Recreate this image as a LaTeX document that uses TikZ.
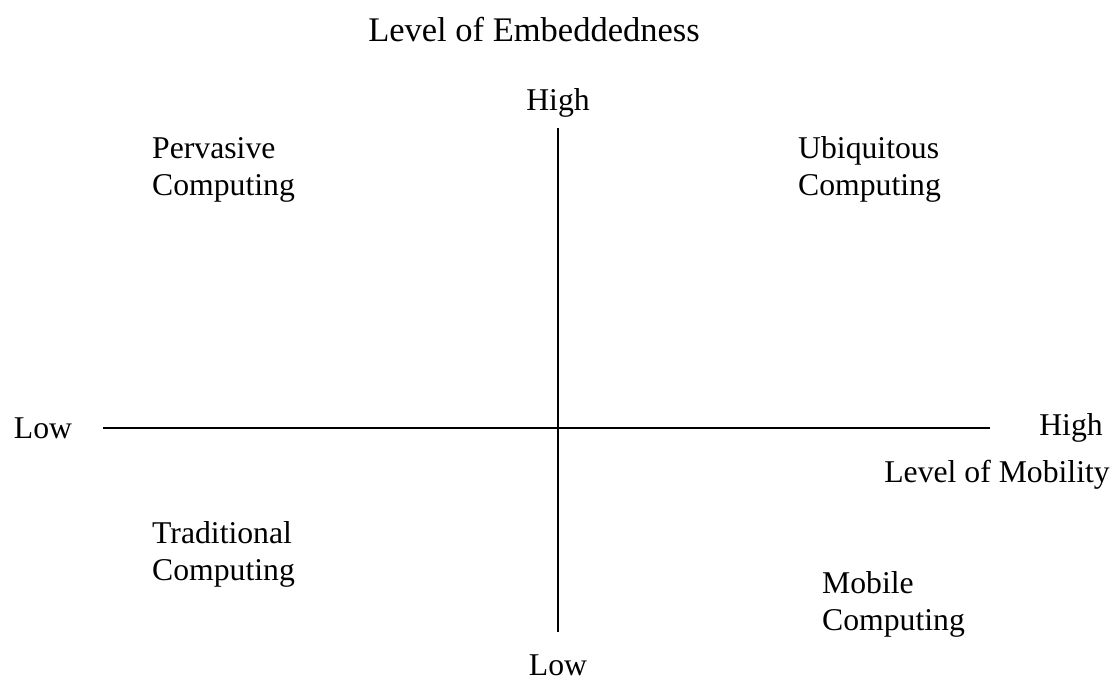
\documentclass[tikz,border=0pt]{standalone}
\usepackage{fontspec}
\setmainfont{Liberation Serif}
\begin{document}
\begin{tikzpicture}[x=1pt,y=-1pt,
  lbl/.style={inner sep=0pt,font=\fontsize{31.7}{37}\selectfont},
  quad/.style={lbl,align=left,anchor=west},
  axis/.style={line width=1.6pt}]
\useasboundingbox (0,0) rectangle (1113,688);
% axis labels
\node[lbl,font=\fontsize{34.5}{37}\selectfont] (title) at (534,30) {Level of Embeddedness};
\node[lbl] (ytop) at (558,103) {High};
\node[lbl] (ybot) at (558,665) {Low};
\node[lbl] (xleft) at (43,428) {Low};
\node[lbl] (xright) at (1071,428) {High};
\node[lbl] (xname) at (997,475) {Level of Mobility};
% axes
\coordinate (vt) at (558,128);
\coordinate (vb) at (558,632);
\coordinate (hl) at (103,428);
\coordinate (hr) at (990,428);
\draw[axis] (vt) -- (vb);
\draw[axis] (hl) -- (hr);
% quadrant labels
\node[quad] (perv) at (152,169.5) {Pervasive\\Computing};
\node[quad] (ubiq) at (798,169.5) {Ubiquitous\\Computing};
\node[quad] (trad) at (152,554.5) {Traditional\\Computing};
\node[quad] (mob) at (822,604) {Mobile\\Computing};
\end{tikzpicture}
\end{document}
